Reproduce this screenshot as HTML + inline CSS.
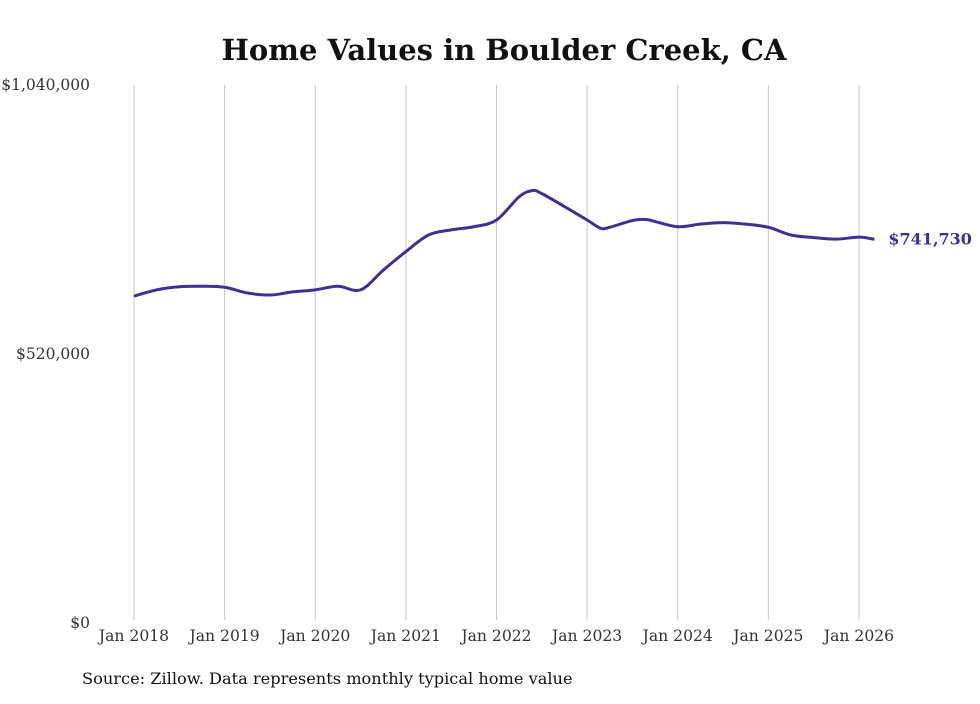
<!DOCTYPE html>
<html><head><meta charset="utf-8"><style>
body{margin:0;background:#fff;}
svg text{font-family:"DejaVu Serif","Liberation Serif",serif;}
</style></head><body>
<svg id="chart" width="980" height="699" viewBox="0 0 980 699">
<rect width="980" height="699" fill="#fff"/>
<text x="504" y="60" text-anchor="middle" font-size="29" font-weight="bold" fill="#111">Home Values in Boulder Creek, CA</text>
<g id="grid"></g><g id="yticks"></g><g id="xticks"></g>
<path id="line" fill="none" stroke="#3d3191" stroke-width="3" stroke-linejoin="round"/>
<text id="endlabel" font-size="16" font-weight="bold" fill="#3d3191"></text>
<text x="82" y="684" font-size="16.2" fill="#111">Source: Zillow. Data represents monthly typical home value</text>
</svg>
<script>
const dates=[2018,2018.25,2018.5,2018.75,2019,2019.25,2019.5,2019.75,2020,2020.25,2020.5,2020.75,2021,2021.25,2021.5,2021.75,2022,2022.25,2022.4,2022.5,2022.75,2023,2023.15,2023.25,2023.5,2023.65,2023.75,2024,2024.25,2024.5,2024.75,2025,2025.25,2025.5,2025.75,2026,2026.17];
const values=[632000,644000,650000,651000,649000,638000,634000,640000,644000,651000,644000,682000,718000,750000,760000,766000,779000,824000,836000,830000,805000,779000,763000,765000,778000,780000,776000,766000,771000,774000,771000,765000,750000,745000,742000,746000,741730];
const yTicks=[0,520000,1040000];
const yTickLabels=["$0","$520,000","$1,040,000"];
const xTicks=[2018,2019,2020,2021,2022,2023,2024,2025,2026];
const xTickLabels=["Jan 2018","Jan 2019","Jan 2020","Jan 2021","Jan 2022","Jan 2023","Jan 2024","Jan 2025","Jan 2026"];
const NS="http://www.w3.org/2000/svg";
const xS=d=>134+(d-2018)*(859-134)/8;
const yS=v=>623-v*(623-85)/1040000;
function mk(tag,attrs,parent,txt){const e=document.createElementNS(NS,tag);for(const k in attrs)e.setAttribute(k,attrs[k]);if(txt!==undefined)e.textContent=txt;parent.appendChild(e);return e;}
const grid=document.getElementById('grid'),yt=document.getElementById('yticks'),xt=document.getElementById('xticks');
xTicks.forEach((d,i)=>{
  const l=mk('line',{x1:xS(d),x2:xS(d),y1:85,y2:620,stroke:'#c8c8c8','stroke-width':1},grid);
  
  
  const t=mk('text',{x:xS(d),y:641,'text-anchor':'middle','font-size':15.6,fill:'#333'},xt,xTickLabels[i]);
  
  
});
yTicks.forEach((v,i)=>{
  const t=mk('text',{x:90,y:yS(v)+5,'text-anchor':'end','font-size':15.5,fill:'#333'},yt,yTickLabels[i]);
  
  
});
const pts=dates.map((d,i)=>[xS(d),yS(values[i])]);
let p='M'+pts[0][0]+','+pts[0][1];
for(let i=0;i<pts.length-1;i++){
  const p0=pts[Math.max(0,i-1)],p1=pts[i],p2=pts[i+1],p3=pts[Math.min(pts.length-1,i+2)];
  const c1=[p1[0]+(p2[0]-p0[0])/6,p1[1]+(p2[1]-p0[1])/6];
  const c2=[p2[0]-(p3[0]-p1[0])/6,p2[1]-(p3[1]-p1[1])/6];
  p+=' C'+c1[0]+','+c1[1]+' '+c2[0]+','+c2[1]+' '+p2[0]+','+p2[1];
}
document.getElementById('line').setAttribute('d',p);
const last=pts[pts.length-1];
const el=document.getElementById('endlabel');
el.setAttribute('x',last[0]+14);el.setAttribute('y',last[1]+5);
el.textContent='$'+values[values.length-1].toLocaleString('en-US');
</script>
</body></html>
